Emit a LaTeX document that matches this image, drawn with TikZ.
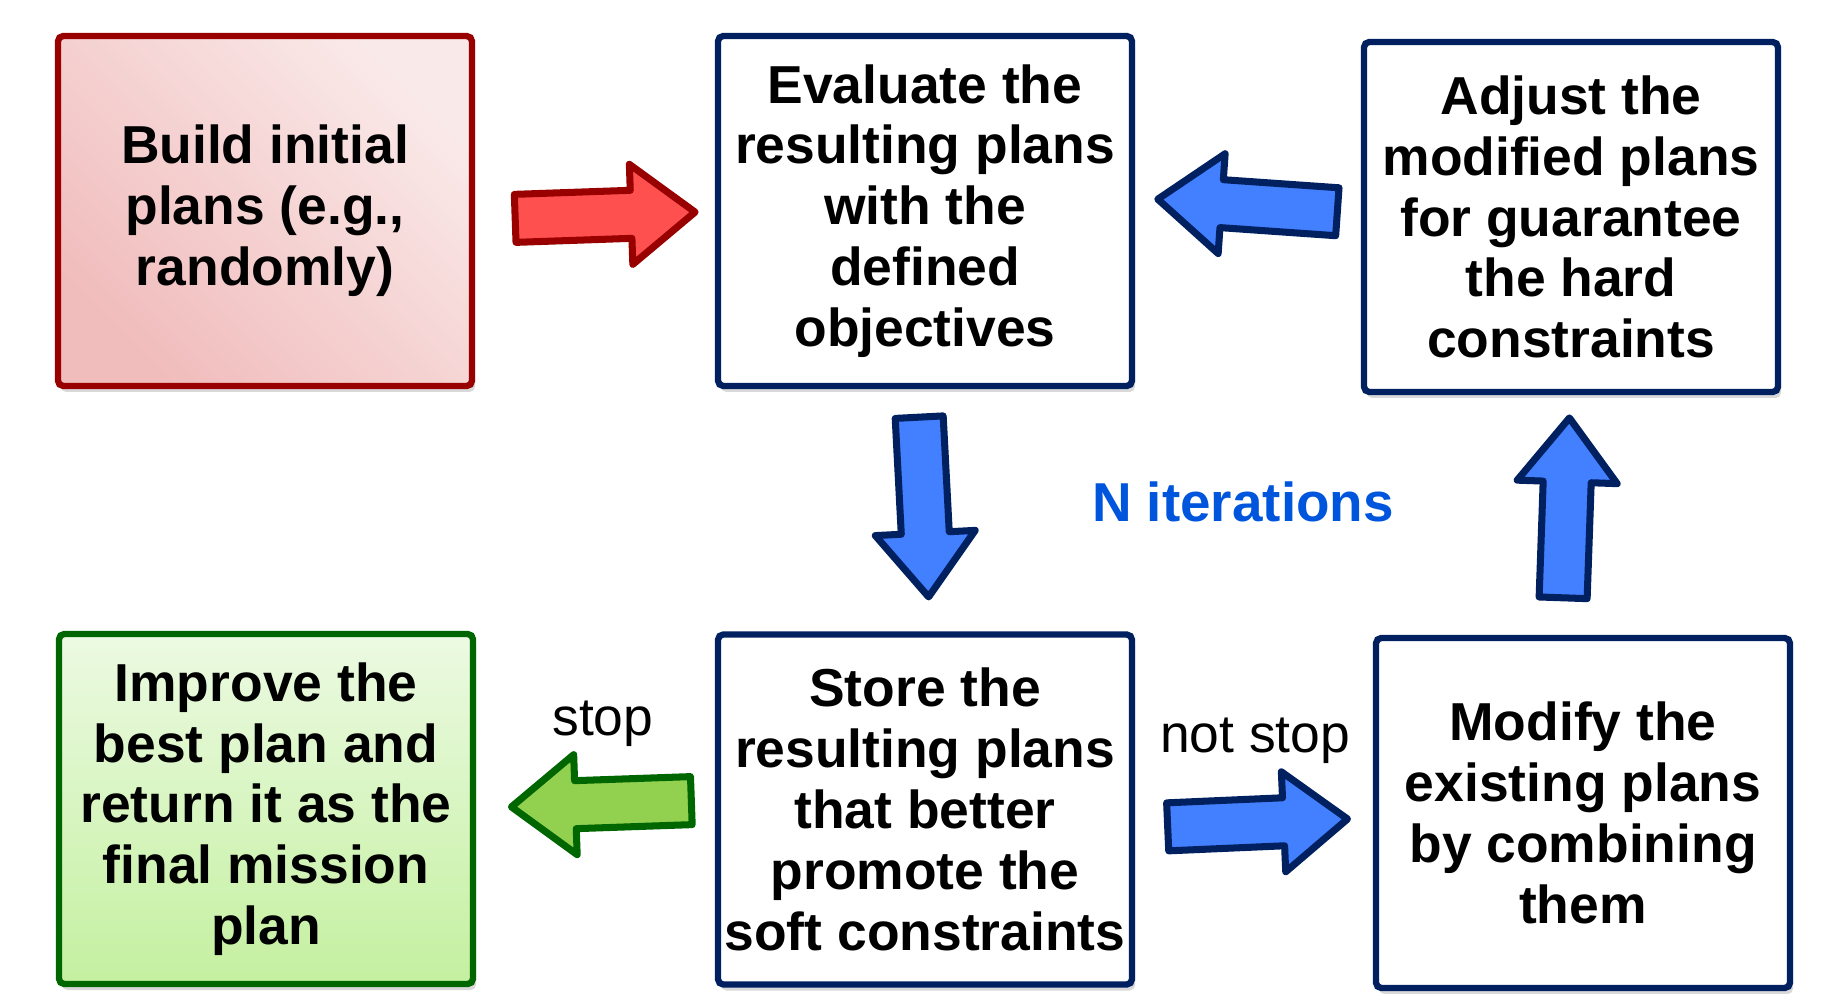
\documentclass[tikz,border=0pt]{standalone}
\usepackage{fontspec}
\setmainfont{Liberation Sans}
\usetikzlibrary{shapes.arrows, shadows, calc}

\definecolor{navy}{RGB}{0,32,96}
\definecolor{darkred}{RGB}{153,0,0}
\definecolor{darkgreen}{RGB}{0,102,0}
\definecolor{arrowblue}{RGB}{66,128,255}
\definecolor{arrowred}{RGB}{255,80,80}
\definecolor{arrowgreen}{RGB}{146,208,80}
\definecolor{itercol}{RGB}{0,85,221}
\definecolor{redlight}{RGB}{250,233,233}
\definecolor{reddark}{RGB}{241,188,188}
\definecolor{greenlight}{RGB}{236,250,226}
\definecolor{greendark}{RGB}{196,240,160}

\begin{document}
\begin{tikzpicture}[
    box/.style={draw=navy, fill=white, line width=1.8pt, rounded corners=1.5pt,
      minimum width=4.14cm, minimum height=3.50cm, align=center, inner xsep=0.5pt,
      font=\fontsize{15.2}{17.3}\selectfont\bfseries,
      drop shadow={shadow xshift=0.03cm, shadow yshift=-0.06cm, opacity=0.3}},
    blockarrow/.style={single arrow, draw=navy, fill=arrowblue, line width=2pt,
      line join=round, inner xsep=0pt, inner ysep=0.205cm, minimum height=1.8cm,
      single arrow head extend=0.26cm, single arrow tip angle=76, anchor=tail,
      drop shadow={shadow xshift=0.02cm, shadow yshift=-0.03cm, opacity=0.2}},
    lbl/.style={font=\fontsize{15.2}{17.3}\selectfont, inner sep=0pt}
  ]
    \useasboundingbox (0,0) rectangle (18.42,9.93);

    % Top row
    \node[box, draw=darkred, top color=redlight, bottom color=reddark, shading angle=-45]
      (build) at (2.65,7.82) {Build initial\\plans (e.g.,\\randomly)};
    \node[box] (eval) at (9.25,7.82)
      {Evaluate the\\resulting plans\\with the\\defined\\objectives};
    \node[box] (adjust) at (15.71,7.76)
      {Adjust the\\modified plans\\for guarantee\\the hard\\constraints};

    % Bottom row
    \node[box, draw=darkgreen, top color=greenlight, bottom color=greendark]
      (improve) at (2.66,1.84) {Improve the\\best plan and\\return it as the\\final mission\\plan};
    \node[box] (store) at (9.25,1.835)
      {Store the\\resulting plans\\that better\\promote the\\soft constraints};
    \node[box] (modify) at (15.83,1.80)
      {Modify the\\existing plans\\by combining\\them};

    % Block arrows between the boxes
    \node[blockarrow, draw=darkred, fill=arrowred, rotate=2]
      (a1) at ($(build.east)+(0.365,-0.075)$) {};
    \node[blockarrow, rotate=176] (a2) at ($(adjust.west)+(-0.20,0.05)$) {};
    \node[blockarrow, rotate=-87] (a3) at ($(eval.south)+(-0.06,-0.245)$) {};
    \node[blockarrow, rotate=2.5] (a4) at ($(store.east)+(0.29,-0.175)$) {};
    \node[blockarrow, rotate=88] (a5) at ($(modify.north)+(-0.20,0.335)$) {};
    \node[blockarrow, draw=darkgreen, fill=arrowgreen, rotate=182]
      (a6) at ($(store.west)+(-0.20,0.09)$) {};

    % Labels
    \node[lbl, anchor=south] (stop) at ($(store.west)+(-1.12,0.625)$) {stop};
    \node[lbl, anchor=south] (notstop) at ($(store.east)+(1.20,0.455)$) {not stop};
    \node[lbl, font=\fontsize{15.6}{17.3}\selectfont\bfseries, text=itercol]
      (iter) at (12.43,4.91) {N iterations};
\end{tikzpicture}
\end{document}
